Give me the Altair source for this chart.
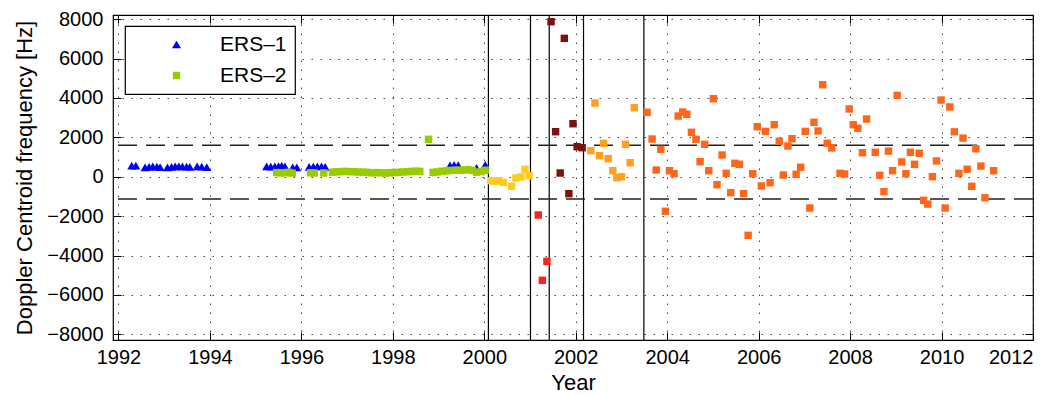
import altair as alt
import pandas as pd

# ---------------- data ----------------
ers1_year = [1992.29, 1992.38, 1992.58, 1992.67, 1992.75, 1992.84, 1992.91, 1993.07, 1993.16,
             1993.24, 1993.32, 1993.40, 1993.49, 1993.56, 1993.72, 1993.82, 1993.93,
             1995.24, 1995.33, 1995.42, 1995.50, 1995.57, 1995.64, 1995.81, 1995.90,
             1996.17, 1996.26, 1996.35, 1996.44, 1996.52,
             1999.25, 1999.34, 1999.43, 1999.83, 2000.02]
ers1_hz = [560, 560, 480, 500, 520, 510, 490, 470, 500, 520, 530, 520, 510, 500, 520, 510, 490,
           520, 510, 530, 540, 560, 520, 480, 470, 500, 510, 520, 530, 500,
           580, 600, 590, 450, 600]

ers2_year = [1995.46, 1995.55, 1995.64, 1995.72, 1995.80,
             1996.20, 1996.28,
             1996.49,
             1996.68, 1996.77, 1996.87, 1996.96, 1997.06, 1997.16, 1997.25, 1997.35, 1997.44,
             1997.54, 1997.64, 1997.73, 1997.83, 1997.92, 1998.02, 1998.12, 1998.21, 1998.31,
             1998.40, 1998.50, 1998.59,
             1998.78,
             1998.88, 1998.97, 1999.07, 1999.17, 1999.26, 1999.36, 1999.45, 1999.55, 1999.64,
             1999.74, 1999.83, 1999.93, 2000.02]
ers2_hz = [210, 190, 200, 220, 180,
           200, 190,
           190,
           230, 250, 260, 270, 260, 250, 240, 230, 220, 200, 210, 200, 190, 200, 210, 220,
           240, 250, 270, 280, 270,
           1900,
           220, 240, 280, 300, 320, 330, 330, 340, 360, 320, 230, 260, 330]

yellow_year = [2000.14, 2000.23, 2000.32, 2000.42, 2000.60, 2000.69, 2000.80, 2000.89, 2000.98]
yellow_hz = [-203, -234, -203, -284, -487, -66, -15, 376, 51]

red_year = [2001.18, 2001.27, 2001.37]
red_hz = [-1944, -5259, -4294]

darkred_year = [2001.46, 2001.56, 2001.66, 2001.75, 2001.85, 2001.94, 2002.03, 2002.14]
darkred_hz = [7868, 2284, 188, 7025, -863, 2690, 1523, 1472]

orange_year = [2002.33, 2002.42, 2002.52, 2002.61, 2002.71, 2002.81, 2002.90, 2003.00,
               2003.09, 2003.19, 2003.28]
orange_hz = [1320, 3741, 1066, 1695, 914, 305, -51, 0, 1645, 711, 3503]

ored_year = [2003.56, 2003.67, 2003.76, 2003.86, 2003.96, 2004.05, 2004.15, 2004.24, 2004.34,
             2004.43, 2004.53, 2004.63, 2004.72, 2004.82, 2004.91, 2005.01, 2005.09, 2005.20,
             2005.29, 2005.39, 2005.48, 2005.58, 2005.67, 2005.77, 2005.87, 2005.97, 2006.06,
             2006.15, 2006.25, 2006.34, 2006.45, 2006.54, 2006.64, 2006.73, 2006.82, 2006.92,
             2007.02, 2007.12, 2007.21, 2007.30, 2007.40, 2007.50, 2007.60, 2007.78, 2007.88,
             2007.98, 2008.07, 2008.17, 2008.27, 2008.36, 2008.55, 2008.65, 2008.74, 2008.84,
             2008.93, 2009.03, 2009.13, 2009.22, 2009.32, 2009.41, 2009.51, 2009.61, 2009.70,
             2009.80, 2009.89, 2009.99, 2010.08, 2010.18, 2010.28, 2010.38, 2010.47, 2010.56,
             2010.66, 2010.75, 2010.86, 2010.95, 2011.14]
ored_hz = [3269, 1914, 340, 1391, -1756, 305, 152, 3081, 3284,
           3168, 2254, 1898, 761, 1645, 305, 3959, -406, 1102,
           170, -810, 680, 630, -860, -2975, 150, 2540, -470,
           2300, -305, 2640, 1800, 86, 1560, 1930, 120, 480,
           2300, -1590, 2760, 2320, 4670, 1700, 1460, 170, 137,
           3440, 2640, 2460, 1220, 2930, 1240, 70, -760, 1300,
           305, 4130, 750, 150, 1240, 630, 1190, -1200, -1390,
           0, 800, 3890, -1590, 3540, 2280, 170, 1960, 380,
           -490, 1420, 540, -1070, 305]

event_years = [2000.09, 2001.01, 2001.42, 2002.17, 2003.49]
threshold_hz = [1600, -1130]

x_ticks = [1992, 1994, 1996, 1998, 2000, 2002, 2004, 2006, 2008, 2010, 2012]
y_ticks = [-8000, -6000, -4000, -2000, 0, 2000, 4000, 6000, 8000]

sat_names = ["ERS\u20131", "ERS\u20132"]
sat_colors = ["#0000FF", "#99CC00"]
sat_shapes = ["triangle-up", "square"]

# ---------------- tables ----------------
ers_df = pd.DataFrame({
    "year": ers1_year + ers2_year,
    "hz": ers1_hz + ers2_hz,
    "sat": [sat_names[0]] * len(ers1_year) + [sat_names[1]] * len(ers2_year),
})

def df(y, v):
    return pd.DataFrame({"year": y, "hz": v})

X_DOMAIN = [1991.88, 2012.0]
Y_DOMAIN = [-8290, 8210]
FONT = "Liberation Sans"

xs = alt.Scale(domain=X_DOMAIN, nice=False, zero=False)
ys = alt.Scale(domain=Y_DOMAIN, nice=False, zero=False)

main_x_axis = alt.Axis(orient="bottom", values=x_ticks, format="d", title="Year",
                       ticks=False, domain=False, grid=True, gridColor="#444444",
                       gridDash=[1.5, 7.5], gridWidth=1, labelFontSize=20, labelPadding=7,
                       labelColor="black", titleColor="black", titleFontSize=22,
                       titleFontWeight="normal", titlePadding=5, labelFont=FONT, titleFont=FONT)
main_y_axis = alt.Axis(orient="left", values=y_ticks, format="d",
                       title="Doppler Centroid frequency [Hz]",
                       ticks=False, domain=False, grid=True, gridColor="#444444",
                       gridDash=[1.5, 7.5], gridWidth=1, labelFontSize=20, labelPadding=10,
                       labelColor="black", titleColor="black", titleFontSize=22,
                       titleFontWeight="normal", titlePadding=10, labelFont=FONT, titleFont=FONT)

def tick_axis(orient, vals):
    return alt.Axis(orient=orient, values=vals, labels=False, domain=False, grid=False,
                    ticks=True, tickSize=8, tickColor="black", tickWidth=1, offset=-8,
                    title=None)

# ---------------- layers ----------------
vlines = alt.Chart(pd.DataFrame({"year": event_years})).mark_rule(
    color="black", strokeWidth=1.2
).encode(x=alt.X("year:Q", scale=xs, axis=None))

hlines = alt.Chart(pd.DataFrame({"hz": threshold_hz})).mark_rule(
    color="#222222", strokeWidth=1.5, strokeDash=[19, 9]
).encode(y=alt.Y("hz:Q", scale=ys, axis=None))

ers = alt.Chart(ers_df).mark_point(filled=True, opacity=1).encode(
    x=alt.X("year:Q", scale=xs, axis=main_x_axis),
    y=alt.Y("hz:Q", scale=ys, axis=main_y_axis),
    color=alt.Color("sat:N", scale=alt.Scale(domain=sat_names, range=sat_colors),
                    legend=alt.Legend(title=None, orient="none", legendX=12, legendY=11,
                                      strokeColor="black", fillColor="white", padding=8,
                                      rowPadding=9, labelFontSize=21, labelFont=FONT,
                                      labelColor="black", symbolSize=85, symbolOffset=33,
                                      labelOffset=33, symbolStrokeWidth=0, cornerRadius=0)),
    shape=alt.Shape("sat:N", scale=alt.Scale(domain=sat_names, range=sat_shapes)),
    size=alt.Size("sat:N", scale=alt.Scale(domain=sat_names, range=[80, 55]), legend=None),
)

def squares(y, v, color, xa=None, ya=None):
    return alt.Chart(df(y, v)).mark_point(
        filled=True, shape="square", size=55, opacity=1, color=color
    ).encode(
        x=alt.X("year:Q", scale=xs, axis=xa),
        y=alt.Y("hz:Q", scale=ys, axis=ya),
    )

yellow = squares(yellow_year, yellow_hz, "#FFCC1E",
                 tick_axis("bottom", x_ticks), tick_axis("left", y_ticks))
red = squares(red_year, red_hz, "#FF2020",
              tick_axis("top", x_ticks), tick_axis("right", y_ticks))
darkred = squares(darkred_year, darkred_hz, "#7F1010")
orange = squares(orange_year, orange_hz, "#FFA020")
ored = squares(ored_year, ored_hz, "#FF6619")

chart = alt.layer(
    vlines, hlines, ers, yellow, red, darkred, orange, ored
).resolve_axis(
    x="independent", y="independent"
).properties(
    width=920, height=325,
    autosize=alt.AutoSizeParams(type="none"),
    padding={"left": 113, "top": 15, "right": 28, "bottom": 55},
).configure(
    font=FONT
).configure_view(
    stroke="black", strokeWidth=1.2
).configure_legend(
    strokeWidth=1.2
)

chart.save("out.html", embed_options={"renderer": "svg", "actions": False})
